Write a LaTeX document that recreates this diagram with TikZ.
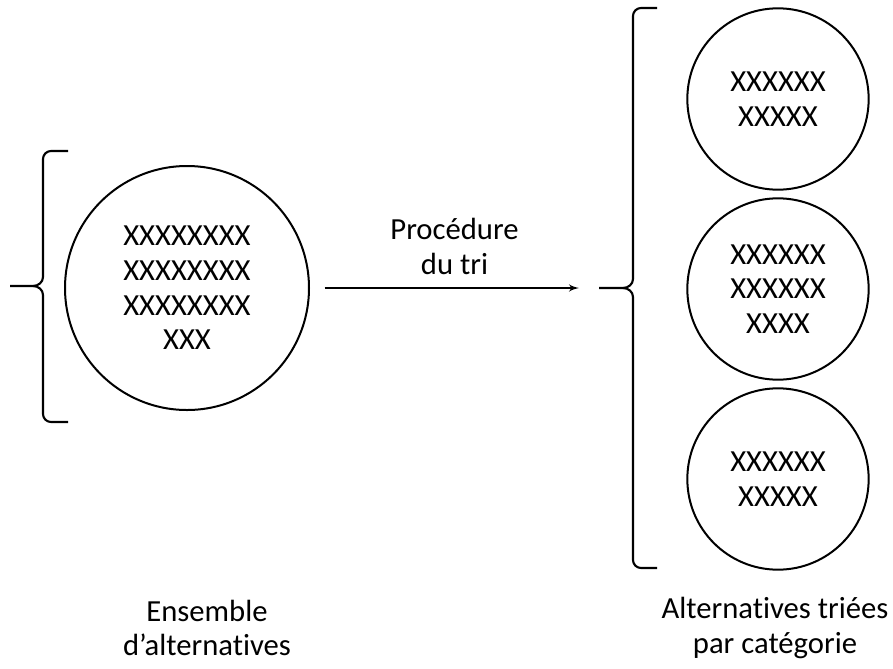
\documentclass[tikz,border=0pt]{standalone}
\usepackage{fontspec}
\setmainfont{Carlito}[Ligatures=NoCommon]
\usetikzlibrary{arrows}

\begin{document}
\begin{tikzpicture}[x=0.75pt,y=-0.75pt]

\tikzset{alt/.style = {shape=circle,draw,line width=1.5pt,align=center,inner sep=0pt,
  font=\fontsize{23}{26}\selectfont}}
\tikzset{big/.style = {alt,minimum size=183pt}}
\tikzset{small/.style = {alt,minimum size=136pt}}
\tikzset{brace/.style = {line width=1.6pt,line join=round}}
\tikzset{edge/.style = {->,> = latex',line width=1.6pt}}
\tikzset{caption/.style = {align=center,font=\fontsize{23}{26}\selectfont}}

\useasboundingbox (0,0) rectangle (893,668);

%circles
\node[big] (ens) at (187,288) {XXXXXXXX\\XXXXXXXX\\XXXXXXXX\\XXX};
\node[small] (c1) at (778,99) {XXXXXX\\XXXXX};
\node[small] (c2) at (778,289) {XXXXXX\\XXXXXX\\XXXX};
\node[small] (c3) at (778,479) {XXXXXX\\XXXXX};
%braces
\coordinate (ltip) at (10,286);
\coordinate (rtip) at (599,288);
\draw[brace] (68,151) -- (51,151) to[out=180,in=90] (43,159) -- (43,277)
  to[out=-90,in=0] (33,286) -- (ltip);
\draw[brace] (33,286) to[out=0,in=90] (43,295) -- (43,414)
  to[out=-90,in=180] (51,422) -- (68,422);
\draw[brace] (657,8) -- (641,8) to[out=180,in=90] (633,16) -- (633,279)
  to[out=-90,in=0] (623,288) -- (rtip);
\draw[brace] (623,288) to[out=0,in=90] (633,297) -- (633,560)
  to[out=-90,in=180] (641,568) -- (657,568);
%edge
\draw[edge,shorten <=11pt,shorten >=15pt] (ens) -- node[caption,above=6pt] {Procédure\\du tri} (rtip);
%captions
\node[caption] (lcap) at (207,628) {Ensemble\\d’alternatives};
\node[caption] (rcap) at (775,628) {Alternatives triées\\par catégorie};

\end{tikzpicture}
\end{document}
